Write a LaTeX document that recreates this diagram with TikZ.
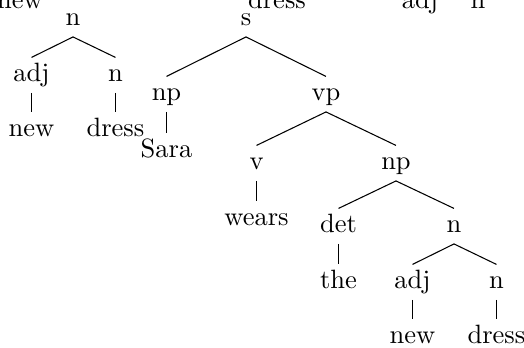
\documentclass[tikz,border=0pt]{standalone}
\begin{document}
\begin{tikzpicture}[x=0.3774pt,y=-0.3774pt,
  lbl/.style={anchor=base,inner xsep=0pt,inner ysep=2.4pt,text height=6.3pt,text depth=1.9pt},
  edge/.style={draw=black,line width=0.4pt}]
\clip (0,0) rectangle (524,347);
% cut-off texts at the top
\node[lbl] (c1) at (20,8) {new};
\node[lbl] (c2) at (277,8) {dress};
\node[lbl] (c3) at (420,8) {adj};
\node[lbl] (c4) at (478,8) {n};
% left tree
\node[lbl] (ln) at (73,25) {n};
\node[lbl] (ladj) at (31.5,81) {adj};
\node[lbl] (lnn) at (115.5,81) {n};
\node[lbl] (lnew) at (31.5,136) {new};
\node[lbl] (ldress) at (115.5,136) {dress};
\draw[edge] (ln.south) -- (ladj.north);
\draw[edge] (ln.south) -- (lnn.north);
\draw[edge] (ladj.south) -- (lnew.north);
\draw[edge] (lnn.south) -- (ldress.north);
% main tree
\node[lbl] (s) at (246,25) {s};
\node[lbl] (np1) at (166.5,100) {np};
\node[lbl] (vp) at (326,100) {vp};
\node[lbl] (sara) at (166.5,157) {Sara};
\node[lbl] (v) at (256.5,169) {v};
\node[lbl] (np2) at (396,169) {np};
\node[lbl] (wears) at (256.5,225) {wears};
\node[lbl] (det) at (338.5,232) {det};
\node[lbl] (n2) at (454,232) {n};
\node[lbl] (the) at (338.5,288) {the};
\node[lbl] (adj2) at (412.5,288) {adj};
\node[lbl] (n3) at (496.5,288) {n};
\node[lbl] (new2) at (412.5,343) {new};
\node[lbl] (dress2) at (496.5,343) {dress};
\draw[edge] (s.south) -- (np1.north);
\draw[edge] (s.south) -- (vp.north);
\draw[edge] (np1.south) -- (sara.north);
\draw[edge] (vp.south) -- (v.north);
\draw[edge] (vp.south) -- (np2.north);
\draw[edge] (v.south) -- (wears.north);
\draw[edge] (np2.south) -- (det.north);
\draw[edge] (np2.south) -- (n2.north);
\draw[edge] (det.south) -- (the.north);
\draw[edge] (n2.south) -- (adj2.north);
\draw[edge] (n2.south) -- (n3.north);
\draw[edge] (adj2.south) -- (new2.north);
\draw[edge] (n3.south) -- (dress2.north);
\end{tikzpicture}
\end{document}
